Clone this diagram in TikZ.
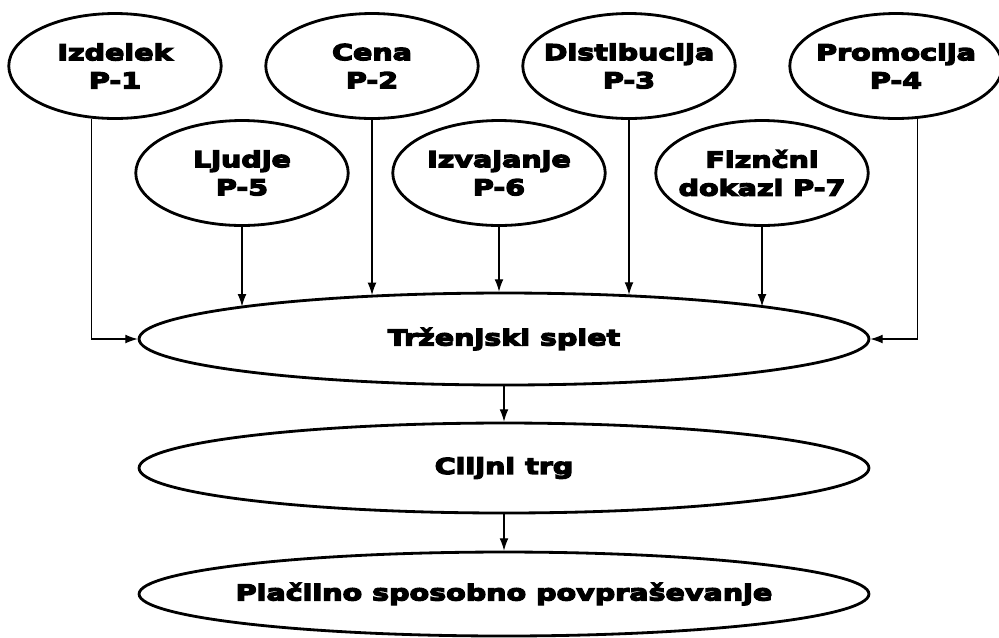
\documentclass[tikz,border=0pt]{standalone}
\usepackage{fontspec}
\setmainfont{DejaVu Sans}[BoldFeatures={FakeStretch=1.3,FakeBold=6}]
\usepackage{tikz}
\usetikzlibrary{shapes.geometric,arrows.meta}

\begin{document}
\begin{tikzpicture}[x=0.02cm,y=-0.02cm,
  pel/.style={ellipse,draw,line width=1.6pt,minimum width=4.25cm,minimum height=2.1cm,
    inner xsep=-0.9cm,inner ysep=0pt,align=center,font=\bfseries\fontsize{12.5}{16}\selectfont},
  wel/.style={pel,minimum width=14.6cm,minimum height=1.84cm,inner xsep=-1.2cm},
  arr/.style={-{Latex[length=7pt,width=5pt]},line width=0.6pt}]
\useasboundingbox (0,0) rectangle (999,637);
\node[pel] (izdelek) at (115,66) {Izdelek\\P-1};
\node[pel] (cena) at (372,66) {Cena\\P-2};
\node[pel] (distib) at (629,66) {Distibucija\\P-3};
\node[pel] (promocija) at (896,66) {Promocija\\P-4};
\node[pel] (ljudje) at (242,173) {Ljudje\\P-5};
\node[pel] (izvajanje) at (499,173) {Izvajanje\\P-6};
\node[pel] (fizicni) at (762,173) {Fiznčni\\dokazi P-7};
\node[wel] (splet) at (504,339) {Trženjski splet};
\node[wel,minimum height=1.8cm] (ciljni) at (504,468) {Ciljni trg};
\node[wel,minimum height=1.68cm] (placilno) at (504,594) {Plačilno sposobno povpraševanje};
\draw[arr] (izdelek.246) |- (splet.west);
\draw[arr] (promocija.292) |- (splet.east);
\draw[arr] (ljudje.south) -- (ljudje.south |- splet.173);
\draw[arr] (cena.south) -- (cena.south |- splet.162);
\draw[arr] (izvajanje.south) -- (izvajanje.south |- splet.north);
\draw[arr] (distib.south) -- (distib.south |- splet.19);
\draw[arr] (fizicni.south) -- (fizicni.south |- splet.7);
\draw[arr] (splet.south) -- (ciljni.north);
\draw[arr] (ciljni.south) -- (placilno.north);
\end{tikzpicture}
\end{document}
